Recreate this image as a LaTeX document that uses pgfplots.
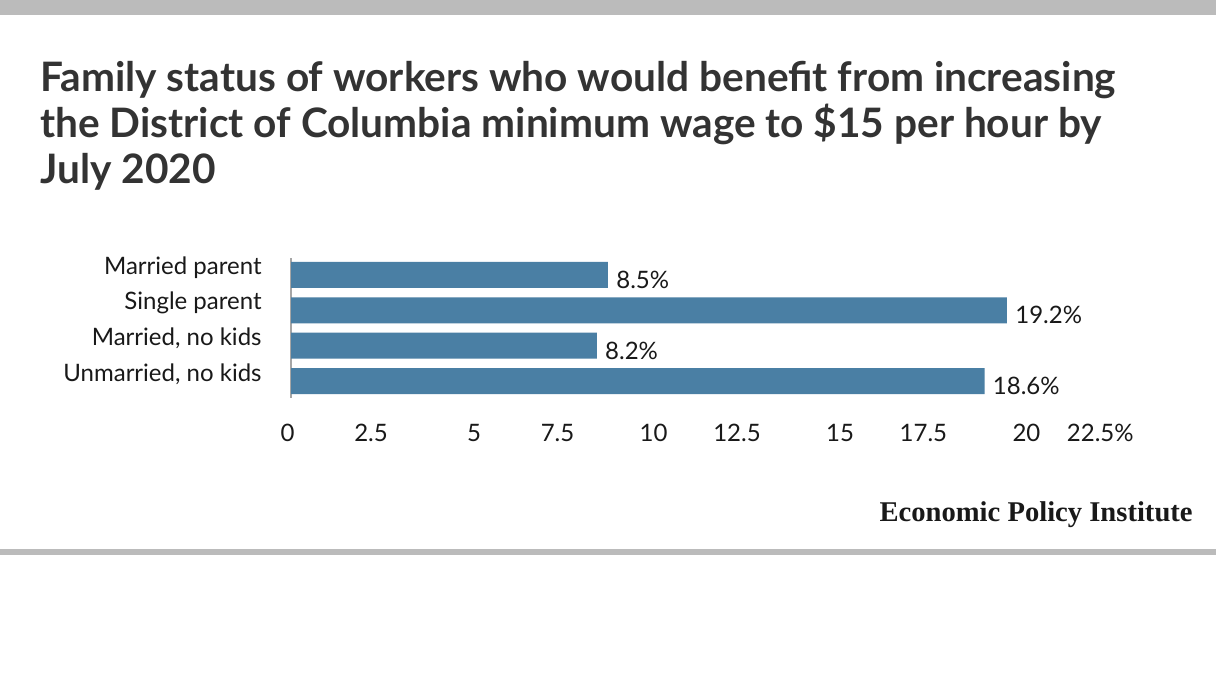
\documentclass[border=0pt]{standalone}
\usepackage{pgfplots}
\pgfplotsset{compat=1.18}
\usepackage{fontspec}
\setmainfont{Lato}
\newfontfamily\epifont{Liberation Serif}
\definecolor{barblue}{HTML}{4A7FA4}
\definecolor{titlegray}{HTML}{333333}
\definecolor{rulegray}{HTML}{BBBBBB}
\begin{document}
\begin{tikzpicture}[x=0.5pt,y=0.5pt]
\fill[white] (0,0) rectangle (1216,700);
\fill[rulegray] (0,700) rectangle (1216,685);
\fill[rulegray] (0,151) rectangle (1216,145);
\node[anchor=base west,inner sep=0,text=titlegray,font=\fontsize{20.3}{24}\selectfont\bfseries] at (40,608) {Family status of workers who would benefit from increasing};
\node[anchor=base west,inner sep=0,text=titlegray,font=\fontsize{20.3}{24}\selectfont\bfseries] at (40,562) {the District of Columbia minimum wage to \$15 per hour by};
\node[anchor=base west,inner sep=0,text=titlegray,font=\fontsize{20.3}{24}\selectfont\bfseries] at (40,516) {July 2020};
\node[anchor=base east,inner sep=0,text=black!90,font=\epifont\fontsize{14.3}{16}\selectfont\bfseries] at (1193,178) {Economic Policy Institute};
\begin{axis}[
  at={(145.5pt,151pt)}, anchor=south west,
  scale only axis, width=419.5pt, height=70pt,
  xmin=0, xmax=22.5, ymin=-0.48, ymax=3.48,
  xbar, bar width=13pt,
  axis lines*=left,
  x axis line style={draw=none},
  y axis line style={draw=black!35, line width=1pt},
  major tick length=0pt,
  /pgf/number format/assume math mode=true,
  xtick={0,2.5,5,7.5,10,12.5,15,17.5,20,22.5},
  xticklabels={0,2.5,5,7.5,10,12.5,15,17.5,20,22.5\%},
  ytick={0,1,2,3},
  yticklabels={{Unmarried, no kids},{Married, no kids},{Single parent},{Married parent}},
  xticklabel style={anchor=north east, inner sep=0pt, yshift=-13pt, xshift=2pt, font=\fontsize{12}{14}\selectfont, text=black!90},
  yticklabel style={anchor=east, inner sep=0pt, xshift=-14.5pt, yshift=3.5pt, font=\fontsize{12}{14}\selectfont, text=black!90},
  nodes near coords={\pgfmathprintnumber[fixed,precision=1,fixed zerofill,assume math mode=true]{\pgfplotspointmeta}\%},
  nodes near coords style={anchor=west, inner sep=0pt, xshift=4pt, yshift=-2.5pt, font=\fontsize{12}{14}\selectfont, text=black!90},
  point meta=explicit,
]
\addplot[fill=barblue, draw=none] coordinates {(18.6,0) [18.6] (8.2,1) [8.2] (19.2,2) [19.2] (8.5,3) [8.5]};
\end{axis}
\end{tikzpicture}
\end{document}
